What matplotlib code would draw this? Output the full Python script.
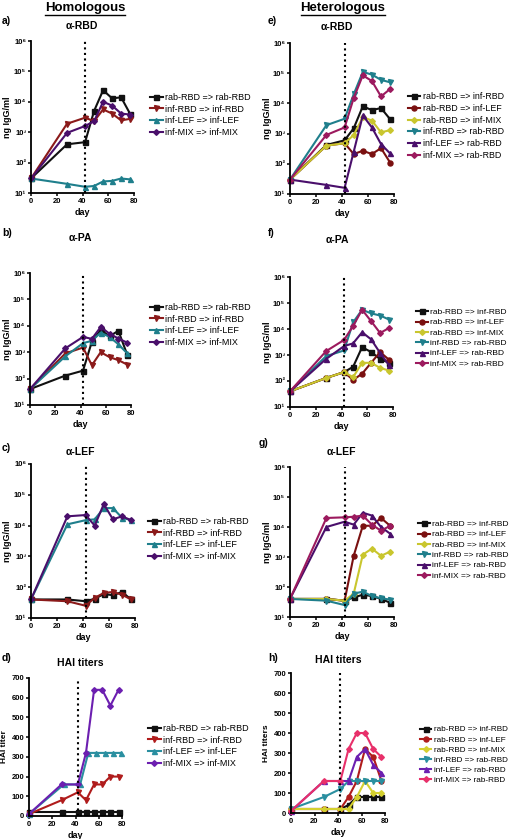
import matplotlib
matplotlib.use('Agg')
import matplotlib.pyplot as plt
from matplotlib.lines import Line2D

plt.rcParams['font.family'] = ['Liberation Sans', 'DejaVu Sans']

W, H = 512, 839

days = [0, 28, 42, 49, 56, 63, 70, 77]
boost_day = 42

homo_labels = ['rab-RBD => rab-RBD', 'inf-RBD => inf-RBD',
               'inf-LEF => inf-LEF', 'inf-MIX => inf-MIX']
hetero_labels = ['rab-RBD => inf-RBD', 'rab-RBD => inf-LEF', 'rab-RBD => inf-MIX',
                 'inf-RBD => rab-RBD', 'inf-LEF => rab-RBD', 'inf-MIX => rab-RBD']

homo_colors = ['#111111', '#8b1a1a', '#1f7f8c', '#4a0f6b']
homo_markers = ['s', 'v', '^', 'D']
hetero_colors = ['#111111', '#7a1010', '#c9c62e', '#1f7f8c', '#4a0f6b', '#9c1a5e']
hetero_markers = ['s', 'o', 'D', 'v', '^', 'D']
hai_homo_colors = ['#111111', '#b01c1c', '#2a8fa0', '#6c1fb0']
hai_hetero_colors = ['#111111', '#b01c1c', '#d4d030', '#2a8fa0', '#6c1fb0', '#e8306a']

# a) anti-RBD, homologous
a_rab_rbd = [30, 400, 470, 5000, 24000, 13000, 14000, 4000]
a_inf_rbd = [30, 1900, 3000, 2300, 5600, 4100, 2450, 2750]
a_inf_lef = [30, 20, 16, 17, 24, 25, 30, 28]
a_inf_mix = [30, 950, 1600, 2300, 10000, 7500, 4100, 3800]

# b) anti-PA, homologous
b_rab_rbd = [40, 130, 200, 2500, 7000, 4000, 6500, 800]
b_inf_rbd = [40, 900, 1500, 320, 1000, 650, 500, 340]
b_inf_lef = [40, 700, 2200, 2700, 5500, 3800, 2000, 900]
b_inf_mix = [40, 1400, 3800, 3200, 9000, 5000, 3300, 2300]

# c) anti-LEF, homologous
c_rab_rbd = [40, 40, 35, 42, 60, 55, 70, 40]
c_inf_rbd = [40, 35, 25, 45, 65, 70, 57, 40]
c_inf_lef = [40, 11000, 15000, 16000, 37000, 37000, 18000, 15000]
c_inf_mix = [40, 20000, 22000, 10000, 50000, 16000, 20000, 15000]

# d) HAI titers, homologous
d_rab_rbd = [20, 20, 20, 20, 20, 20, 20, 20]
d_inf_rbd = [10, 80, 120, 80, 160, 160, 200, 200]
d_inf_lef = [10, 160, 160, 320, 320, 320, 320, 320]
d_inf_mix = [10, 160, 160, 320, 640, 640, 560, 640]
d_lef_days = [0, 30, 44, 51, 58, 65, 72, 79]

# e) anti-RBD, heterologous
e_rab_inf_rbd = [30, 420, 600, 1500, 8000, 6000, 7000, 3000]
e_rab_inf_lef = [30, 400, 480, 210, 270, 210, 330, 110]
e_rab_inf_mix = [30, 400, 480, 900, 3500, 2700, 1100, 1300]
e_inf_rbd_rab = [30, 1900, 3100, 20000, 110000, 90000, 60000, 50000]
e_inf_lef_rab = [30, 20, 16, 250, 4000, 1600, 450, 220]
e_inf_mix_rab = [30, 900, 1600, 15000, 85000, 55000, 17000, 30000]

# f) anti-PA, heterologous
f_rab_inf_rbd = [40, 130, 220, 350, 2000, 1300, 700, 500]
f_rab_inf_lef = [40, 130, 220, 110, 190, 500, 1300, 650]
f_rab_inf_mix = [40, 130, 220, 140, 500, 500, 320, 250]
f_inf_rbd_rab = [40, 900, 1500, 18000, 55000, 40000, 33000, 23000]
f_inf_lef_rab = [40, 700, 2200, 2800, 7500, 4000, 1200, 400]
f_inf_mix_rab = [40, 1400, 3800, 13000, 55000, 20000, 7000, 11000]

# g) anti-LEF, heterologous
g_rab_inf_rbd = [40, 40, 35, 45, 55, 50, 40, 30]
g_rab_inf_lef = [40, 40, 35, 1100, 11000, 11000, 20000, 11000]
g_rab_inf_mix = [40, 40, 35, 60, 1200, 1900, 1100, 1500]
g_inf_rbd_rab = [40, 35, 25, 60, 70, 50, 42, 38]
g_inf_lef_rab = [40, 10000, 15000, 12000, 30000, 24000, 10000, 6000]
g_inf_mix_rab = [40, 20000, 21000, 22000, 24000, 12000, 7500, 11000]

# h) HAI titers, heterologous
h_rab_inf_rbd = [20, 20, 20, 40, 80, 80, 80, 80]
h_rab_inf_lef = [20, 20, 20, 80, 160, 320, 280, 160]
h_rab_inf_mix = [20, 20, 20, 20, 80, 160, 100, 100]
h_inf_rbd_rab = [20, 80, 120, 160, 160, 160, 160, 160]
h_inf_lef_rab = [10, 160, 160, 160, 280, 320, 240, 200]
h_inf_mix_rab = [10, 160, 160, 320, 400, 400, 320, 280]

log_ticks = [10, 100, 1000, 10000, 100000, 1000000]
log_ticklabels = ['10\u00b9', '10\u00b2', '10\u00b3', '10\u2074', '10\u2075', '10\u2076']
hai_ticks = [0, 100, 200, 300, 400, 500, 600, 700]
day_ticks = [0, 20, 40, 60, 80]

fig = plt.figure(figsize=(W / 100, H / 100), dpi=100)


def fx(x):
    return x / W


def fy(y):
    return 1 - y / H


def panel(box, series, labels, colors, markers, title, letter, ylabel,
          title_xy, letter_xy, ylabel_x, legend_xy, log=True, xdays=None,
          legend_size=6.5, ylabel_size=6.5):
    x0, y0, x1, y1 = box
    ax = fig.add_axes([fx(x0), fy(y1), (x1 - x0) / W, (y1 - y0) / H])
    for i, vals in enumerate(series):
        xs = days if xdays is None or xdays[i] is None else xdays[i]
        ax.plot(xs, vals, color=colors[i], marker=markers[i], lw=1.5,
                ms=3.6 if markers[i] != 'D' else 2.9, label=labels[i], clip_on=False)
    ax.axvline(boost_day, color='black', ls=':', lw=1.5)
    ax.set_xlim(0, 80)
    ax.set_xticks(day_ticks)
    if log:
        ax.set_yscale('log')
        ax.set_ylim(10, 1e6)
        ax.set_yticks(log_ticks)
        ax.set_yticklabels(log_ticklabels)
        ax.minorticks_off()
    else:
        ax.set_ylim(0, 700)
        ax.set_yticks(hai_ticks)
    for s in ['top', 'right']:
        ax.spines[s].set_visible(False)
    for s in ['left', 'bottom']:
        ax.spines[s].set_linewidth(1.3)
    ax.tick_params(direction='out', length=2.5, width=1.1, labelsize=5.5, pad=1)
    for t in ax.get_xticklabels() + ax.get_yticklabels():
        t.set_fontweight('bold')
    ax.set_xlabel('day', fontsize=6.5, fontweight='bold', labelpad=2)
    fig.text(fx(ylabel_x), fy((y0 + y1) / 2), ylabel, rotation=90, ha='center',
             va='center', fontsize=ylabel_size, fontweight='bold')
    fig.text(fx(title_xy[0]), fy(title_xy[1]), title, ha='center', va='center',
             fontsize=7.5, fontweight='bold')
    fig.text(fx(letter_xy[0]), fy(letter_xy[1]), letter, ha='left', va='center',
             fontsize=7.5, fontweight='bold')
    ax.legend(loc='center left', bbox_to_anchor=(fx(legend_xy[0]), fy(legend_xy[1])),
              bbox_transform=fig.transFigure, frameon=False, fontsize=legend_size,
              handlelength=1.4, handletextpad=0.25, labelspacing=0.3,
              borderpad=0, borderaxespad=0)
    return ax


panel((31, 41, 134, 193), [a_rab_rbd, a_inf_rbd, a_inf_lef, a_inf_mix],
      homo_labels, homo_colors, homo_markers, '\u03b1-RBD', 'a)', 'ng IgG/ml',
      (82, 26), (2, 21), 8, (150, 115))
panel((30, 273, 131, 405), [b_rab_rbd, b_inf_rbd, b_inf_lef, b_inf_mix],
      homo_labels, homo_colors, homo_markers, '\u03b1-PA', 'b)', 'ng IgG/ml',
      (80, 238), (2, 233), 8, (150, 325))
panel((31, 464, 135, 618), [c_rab_rbd, c_inf_rbd, c_inf_lef, c_inf_mix],
      homo_labels, homo_colors, homo_markers, '\u03b1-LEF', 'c)', 'ng IgG/ml',
      (80, 452), (2, 448), 8, (148, 539))
panel((29, 678, 122, 816), [d_rab_rbd, d_inf_rbd, d_inf_lef, d_inf_mix],
      homo_labels, hai_homo_colors, homo_markers, 'HAI titers', 'd)', 'HAI titer',
      (80, 663), (2, 658), 5, (148, 746), log=False,
      xdays=[None, None, d_lef_days, None], ylabel_size=6)

panel((290, 43, 394, 194),
      [e_rab_inf_rbd, e_rab_inf_lef, e_rab_inf_mix, e_inf_rbd_rab, e_inf_lef_rab, e_inf_mix_rab],
      hetero_labels, hetero_colors, hetero_markers, '\u03b1-RBD', 'e)', 'ng IgG/ml',
      (337, 27), (268, 21), 268, (408, 126), legend_size=6.4)
panel((290, 277, 393, 407),
      [f_rab_inf_rbd, f_rab_inf_lef, f_rab_inf_mix, f_inf_rbd_rab, f_inf_lef_rab, f_inf_mix_rab],
      hetero_labels, hetero_colors, hetero_markers, '\u03b1-PA', 'f)', 'ng IgG/ml',
      (337, 240), (268, 233), 268, (416, 338), legend_size=6.0)
panel((290, 467, 394, 617),
      [g_rab_inf_rbd, g_rab_inf_lef, g_rab_inf_mix, g_inf_rbd_rab, g_inf_lef_rab, g_inf_mix_rab],
      hetero_labels, hetero_colors, hetero_markers, '\u03b1-LEF', 'g)', 'ng IgG/ml',
      (341, 452), (259, 443), 268, (418, 550), legend_size=6.0)
panel((291, 673, 385, 813),
      [h_rab_inf_rbd, h_rab_inf_lef, h_rab_inf_mix, h_inf_rbd_rab, h_inf_lef_rab, h_inf_mix_rab],
      hetero_labels, hai_hetero_colors, hetero_markers, 'HAI titers', 'h)', 'HAI titers',
      (338, 660), (268, 658), 267, (420, 755), log=False, legend_size=5.9,
      ylabel_size=6)

heads = [fig.text(fx(85), fy(8), 'Homologous', ha='center', va='center',
                  fontsize=9.5, fontweight='bold'),
         fig.text(fx(343), fy(8), 'Heterologous', ha='center', va='center',
                  fontsize=9.5, fontweight='bold')]
fig.canvas.draw()
for t in heads:
    bb = t.get_window_extent()
    fig.add_artist(Line2D([bb.x0 / W, bb.x1 / W], [(bb.y0 - 1) / H, (bb.y0 - 1) / H],
                          transform=fig.transFigure, color='black', lw=1))

fig.savefig('out.png', dpi=100)
